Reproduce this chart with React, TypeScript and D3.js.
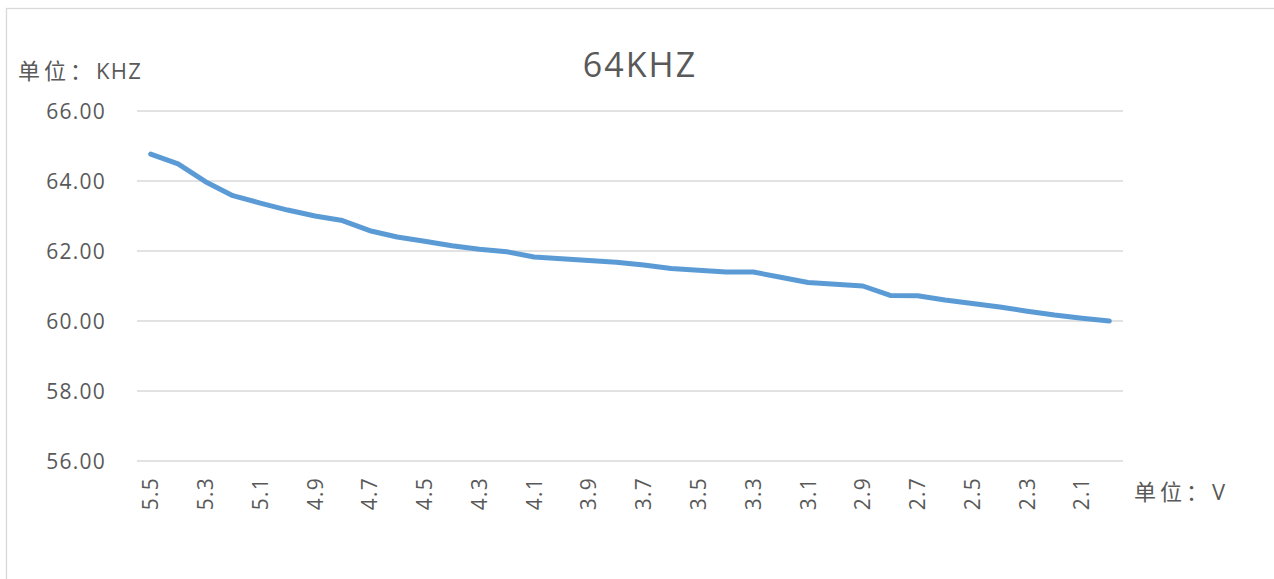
import React from 'react';
import * as d3 from 'd3';

// voltage steps (V), from 5.5 down to 2.0
const voltages = [
  '5.5', '5.4', '5.3', '5.2', '5.1', '5.0', '4.9', '4.8', '4.7', '4.6', '4.5', '4.4',
  '4.3', '4.2', '4.1', '4.0', '3.9', '3.8', '3.7', '3.6', '3.5', '3.4', '3.3', '3.2',
  '3.1', '3.0', '2.9', '2.8', '2.7', '2.6', '2.5', '2.4', '2.3', '2.2', '2.1', '2.0',
];

// measured frequency (KHZ)
const freqs = [
  64.77, 64.49, 63.98, 63.58, 63.37, 63.17, 63.0, 62.87, 62.58, 62.4, 62.28, 62.15,
  62.05, 61.98, 61.83, 61.78, 61.73, 61.68, 61.6, 61.5, 61.45, 61.4, 61.4, 61.25,
  61.1, 61.05, 61.0, 60.73, 60.72, 60.6, 60.5, 60.4, 60.28, 60.17, 60.08, 60.0,
];

const yTicks = [56, 58, 60, 62, 64, 66];

const W = 1274;
const H = 579;
const margin = { top: 111, right: 151, bottom: 118, left: 137 };
const textColor = '#595959';
const font = '"Open Sans", "Noto Sans CJK SC", sans-serif';

// label with CJK prefix spaced wider than the latin part
function UnitLabel({ x, y, unit }: { x: number; y: number; unit: string }) {
  return (
    <text x={x} y={y} fontSize={22} fill={textColor}>
      <tspan letterSpacing={4}>单位：</tspan>
      <tspan letterSpacing="0.06em">{unit}</tspan>
    </text>
  );
}

export default function App() {
  const x = d3.scaleBand<string>()
    .domain(voltages)
    .range([margin.left, W - margin.right])
    .padding(0);

  const y = d3.scaleLinear()
    .domain([56, 66])
    .range([H - margin.bottom, margin.top]);

  const line = d3.line<number>()
    .x((d, i) => (x(voltages[i]) as number) + x.bandwidth() / 2)
    .y(d => y(d));

  const x0 = margin.left;
  const x1 = W - margin.right;

  return (
    <svg
      width={W}
      height={H}
      style={{ position: 'absolute', left: 0, top: 0, background: '#fff' }}
      fontFamily={font}
    >
      {/* chart area border */}
      <rect x={6.5} y={8.5} width={1290} height={620} fill="none" stroke="#D9D9D9" strokeWidth={1.3} />

      {/* title */}
      <text x={640} y={77} textAnchor="middle" fontSize={34} fill={textColor} letterSpacing="0.06em">
        64KHZ
      </text>

      {/* y unit */}
      <UnitLabel x={18} y={79} unit="KHZ" />

      {/* gridlines + y labels */}
      {yTicks.map(t => (
        <g key={t}>
          <line x1={x0} x2={x1} y1={y(t)} y2={y(t)} stroke="#D9D9D9" strokeWidth={1.3} />
          <text
            x={106}
            y={y(t)}
            dy="0.36em"
            textAnchor="end"
            fontSize={21}
            fill={textColor}
            letterSpacing="0.06em"
          >
            {t.toFixed(2)}
          </text>
        </g>
      ))}

      {/* x labels, every other category */}
      {voltages.map((v, i) =>
        i % 2 === 0 ? (
          <text
            key={v}
            transform={`translate(${(x(v) as number) + x.bandwidth() / 2},477) rotate(-90)`}
            textAnchor="end"
            dy="0.36em"
            fontSize={21}
            fill={textColor}
            letterSpacing="0.06em"
          >
            {v}
          </text>
        ) : null
      )}

      {/* x unit */}
      <UnitLabel x={1134} y={500} unit="V" />

      {/* series */}
      <path
        d={line(freqs) ?? ''}
        fill="none"
        stroke="#5B9BD5"
        strokeWidth={5}
        strokeLinecap="round"
        strokeLinejoin="round"
      />
    </svg>
  );
}
